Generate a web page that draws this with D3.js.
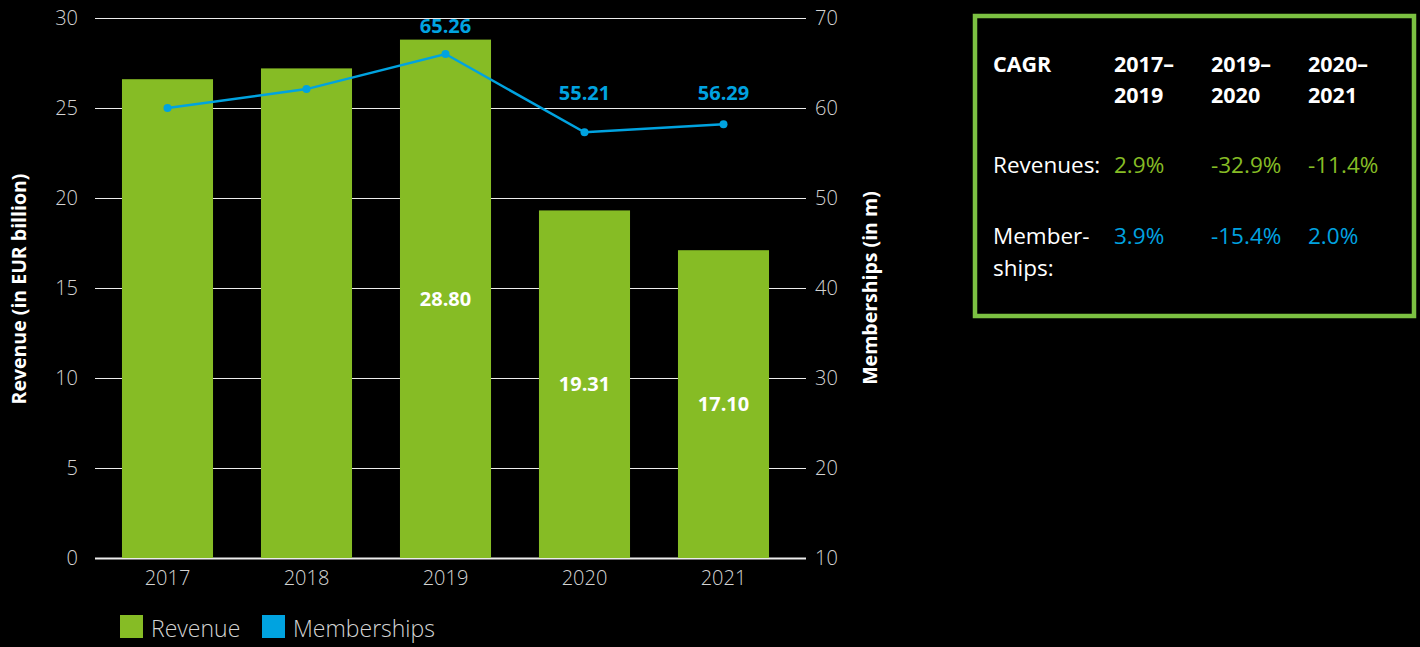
<!DOCTYPE html>
<html>
<head>
<meta charset="utf-8">
<script src="https://cdn.jsdelivr.net/npm/d3@7"></script>
<style>
  html, body { margin: 0; padding: 0; background: #000; }
  svg { display: block; font-family: "Open Sans", "Noto Sans", sans-serif; }
</style>
</head>
<body>
<svg id="chart" width="1420" height="647"></svg>
<script>
// ---- data ----
const years = ["2017", "2018", "2019", "2020", "2021"];
const revenue = [26.6, 27.2, 28.80, 19.31, 17.10];
const revenueLabels = ["", "", "28.80", "19.31", "17.10"];
const memberships = [60.0, 62.1, 66.0, 57.3, 58.2];
const membershipLabels = ["", "", "65.26", "55.21", "56.29"];
const leftTicks = [0, 5, 10, 15, 20, 25, 30];
const rightTicks = [10, 20, 30, 40, 50, 60, 70];
const cagrPeriods = [["2017–", "2019"], ["2019–", "2020"], ["2020–", "2021"]];
const cagrRevenue = ["2.9%", "-32.9%", "-11.4%"];
const cagrMemberships = ["3.9%", "-15.4%", "2.0%"];
const legendItems = ["Revenue", "Memberships"];

// ---- styles ----
const GREEN = "#86bc25";
const BLUE = "#00a3e0";
const BOX_GREEN = "#7cc142";
const TICK = "#d4d4d4";

const svg = d3.select("#chart");
svg.append("rect").attr("width", 1420).attr("height", 647).attr("fill", "#000");

const x = d3.scaleBand().domain(years).range([98, 793]).paddingInner(0.345).paddingOuter(0.1725);
const y = d3.scaleLinear().domain([0, 30]).range([558, 18]);
const yR = d3.scaleLinear().domain([10, 70]).range([558, 18]);

// gridlines
svg.append("g").selectAll("line").data(leftTicks).join("line")
  .attr("x1", 95).attr("x2", 806)
  .attr("y1", d => Math.round(y(d)) + 0.5).attr("y2", d => Math.round(y(d)) + 0.5)
  .attr("stroke", "#ececec")
  .attr("stroke-width", d => d === 0 ? 2 : 1);

function styleTicks(g) {
  g.select(".domain").remove();
  g.selectAll("text").attr("fill", TICK).attr("font-size", 20).attr("font-weight", 300)
    .attr("font-family", "'Open Sans', sans-serif");
}

// left axis
svg.append("g").attr("transform", "translate(95,0)")
  .call(d3.axisLeft(y).tickValues(leftTicks).tickSize(0).tickPadding(17))
  .call(styleTicks);

// right axis
svg.append("g").attr("transform", "translate(806,0)")
  .call(d3.axisRight(yR).tickValues(rightTicks).tickSize(0).tickPadding(9))
  .call(styleTicks);

// bottom axis
svg.append("g").attr("transform", "translate(0,558)")
  .call(d3.axisBottom(x).tickSize(0).tickPadding(13))
  .call(styleTicks);

// bars
svg.append("g").selectAll("rect").data(years).join("rect")
  .attr("x", d => x(d)).attr("width", x.bandwidth())
  .attr("y", (d, i) => y(revenue[i]))
  .attr("height", (d, i) => y(0) - y(revenue[i]))
  .attr("fill", GREEN);

// bar labels
svg.append("g").selectAll("text").data(years).join("text")
  .attr("x", d => x(d) + x.bandwidth() / 2)
  .attr("y", (d, i) => (y(revenue[i]) + y(0)) / 2 + 7)
  .attr("text-anchor", "middle")
  .attr("fill", "#fff").attr("font-size", 20).attr("font-weight", 700)
  .text((d, i) => revenueLabels[i]);

// line
const line = d3.line().x((d, i) => x(years[i]) + x.bandwidth() / 2).y(d => yR(d));
svg.append("path").datum(memberships).attr("d", line)
  .attr("fill", "none").attr("stroke", BLUE).attr("stroke-width", 2.5);
svg.append("g").selectAll("circle").data(memberships).join("circle")
  .attr("cx", (d, i) => x(years[i]) + x.bandwidth() / 2)
  .attr("cy", d => yR(d)).attr("r", 4).attr("fill", BLUE);

// line labels
svg.append("g").selectAll("text").data(memberships).join("text")
  .attr("x", (d, i) => x(years[i]) + x.bandwidth() / 2)
  .attr("y", (d, i) => i === 2 ? yR(d) - 21 : yR(d3.max(memberships.slice(3))) - 24)
  .attr("text-anchor", "middle")
  .attr("fill", BLUE).attr("font-size", 20).attr("font-weight", 700)
  .text((d, i) => membershipLabels[i]);

// axis titles
svg.append("text")
  .attr("transform", "translate(26,289) rotate(-90)")
  .attr("text-anchor", "middle").attr("fill", "#fff")
  .attr("font-size", 19.5).attr("font-weight", 700)
  .text("Revenue (in EUR billion)");
svg.append("text")
  .attr("transform", "translate(877,288) rotate(-90)")
  .attr("text-anchor", "middle").attr("fill", "#fff")
  .attr("font-size", 19.5).attr("font-weight", 700)
  .text("Memberships (in m)");

// legend
const legend = svg.append("g");
const legendX = [120, 262];
const legendColors = [GREEN, BLUE];
legendItems.forEach((name, i) => {
  legend.append("rect").attr("x", legendX[i]).attr("y", 615).attr("width", 23).attr("height", 23)
    .attr("fill", legendColors[i]);
  legend.append("text").attr("x", legendX[i] + 31).attr("y", 637)
    .attr("fill", TICK).attr("font-size", 23).attr("font-weight", 300)
    .text(name);
});

// CAGR box
const box = svg.append("g");
box.append("rect").attr("x", 975).attr("y", 16).attr("width", 439).attr("height", 300)
  .attr("fill", "#000").attr("stroke", BOX_GREEN).attr("stroke-width", 4.5);
const colX = [1114, 1211, 1308];
const HEAD = 21.5, BODY = 22.5;
box.append("text").attr("x", 993).attr("y", 72).attr("fill", "#fff")
  .attr("font-size", HEAD).attr("font-weight", 700).text("CAGR");
cagrPeriods.forEach((p, i) => {
  box.append("text").attr("x", colX[i]).attr("y", 72).attr("fill", "#fff")
    .attr("font-size", HEAD).attr("font-weight", 700).text(p[0]);
  box.append("text").attr("x", colX[i]).attr("y", 103).attr("fill", "#fff")
    .attr("font-size", HEAD).attr("font-weight", 700).text(p[1]);
});
box.append("text").attr("x", 993).attr("y", 173).attr("fill", "#fff")
  .attr("font-size", BODY).attr("font-weight", 400).text("Revenues:");
box.append("text").attr("x", 993).attr("y", 244).attr("fill", "#fff")
  .attr("font-size", BODY).attr("font-weight", 400).text("Member-");
box.append("text").attr("x", 993).attr("y", 276).attr("fill", "#fff")
  .attr("font-size", BODY).attr("font-weight", 400).text("ships:");
cagrRevenue.forEach((v, i) => {
  box.append("text").attr("x", colX[i]).attr("y", 173).attr("fill", GREEN)
    .attr("font-size", BODY).attr("font-weight", 400).text(v);
});
cagrMemberships.forEach((v, i) => {
  box.append("text").attr("x", colX[i]).attr("y", 244).attr("fill", BLUE)
    .attr("font-size", BODY).attr("font-weight", 400).text(v);
});
</script>
</body>
</html>
